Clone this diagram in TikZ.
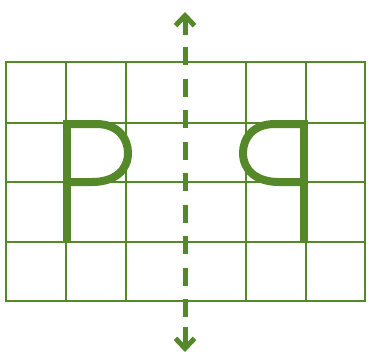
\documentclass[tikz,border=0pt]{standalone}
\usepackage{xcolor}
\usepackage{tikz}
\usetikzlibrary{arrows.meta}
\definecolor{gridgreen}{RGB}{84,136,40}

\begin{document}
\begin{tikzpicture}[
    x=1pt, y=-1pt,
    gridline/.style={draw=gridgreen, line width=2.6pt, line cap=rect},
    letter/.style={draw=gridgreen, line width=8pt, line cap=butt, line join=round},
    axisline/.style={draw=gridgreen, line width=5pt, dash pattern=on 18pt off 13.5pt},
    tipline/.style={draw=gridgreen, line width=5pt,
                    -{Straight Barb[length=10pt,width=19pt,line width=5pt]}},
]
\useasboundingbox (0,0) rectangle (371,359);
% grid
\foreach \y in {62,123,182,242,301} \draw[gridline] (6,\y) -- (365,\y);
\foreach \x in {6,66,126,246,306,365} \draw[gridline] (\x,62) -- (\x,301);
% letter P and its mirror image
\draw[letter] (67,120) -- (67,242);
\draw[letter] (67,124) -- (96,124) .. controls (118,124) and (128,138) .. (128,153)
              .. controls (128,170) and (115,182) .. (92,182) -- (67,182);
\draw[letter] (304,120) -- (304,242);
\draw[letter] (304,124) -- (275,124) .. controls (253,124) and (243,138) .. (243,153)
              .. controls (243,170) and (256,182) .. (279,182) -- (304,182);
% axis of symmetry
\coordinate (top) at (185,12);
\coordinate (topend) at (185,35);
\coordinate (dashstart) at (185,47);
\coordinate (dashend) at (185,317);
\coordinate (botstart) at (185,327);
\coordinate (bot) at (185,352);
\draw[axisline] (dashstart) -- (dashend);
\draw[tipline] (topend) -- (top);
\draw[tipline] (botstart) -- (bot);
\end{tikzpicture}
\end{document}
